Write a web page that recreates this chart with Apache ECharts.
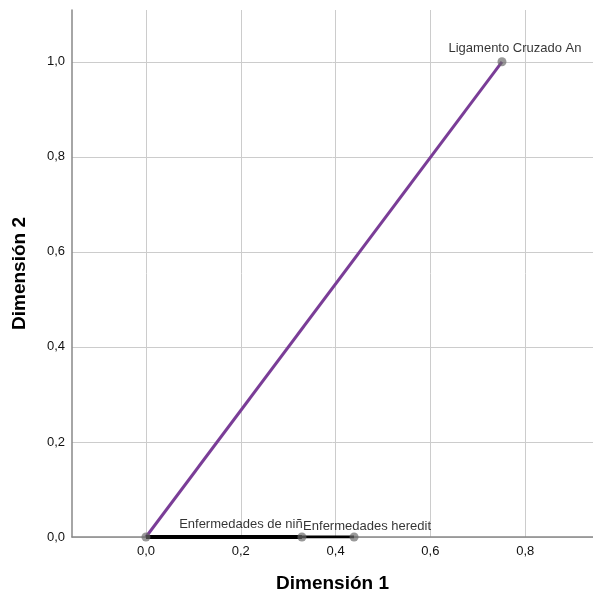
<!DOCTYPE html>
<html><head><meta charset="utf-8">
<script src="https://cdn.jsdelivr.net/npm/echarts@6/dist/echarts.min.js"></script>
<style>html,body{margin:0;padding:0;background:#fff}#c{width:593px;height:598px}</style>
</head><body><div id="c"></div>
<script>
const categories = ["Ligamento Cruzado An", "Enfermedades de niñ", "Enfermedades heredit"];
const dim1 = [0.751, 0.329, 0.439];
const dim2 = [1.0, 0.0, 0.0];
const xTicks = [0, 0.2, 0.4, 0.6, 0.8];
const yTicks = [0, 0.2, 0.4, 0.6, 0.8, 1.0];
const lineColors = ["#7a3d97", "#000000", "#000000"];
const lineWidths = [3, 4, 3];
const labelOffsets = [[13, -13], [-61, -13], [13, -11]];

const fmt = v => v.toFixed(1).replace('.', ',');
const font = "'Liberation Sans', Arial, sans-serif";

const series = [];
categories.forEach((c, i) => {
  series.push({
    type: 'line', data: [[0, 0], [dim1[i], dim2[i]]], symbol: 'none',
    lineStyle: { color: lineColors[i], width: lineWidths[i] }, z: i === 1 ? 4 : 3, silent: true
  });
});
series.push({
  type: 'scatter', symbolSize: 9, z: 5,
  itemStyle: { color: 'rgba(105,105,105,0.85)' },
  data: [{ value: [0, 0], label: { show: false } }].concat(categories.map((c, i) => ({
    value: [dim1[i], dim2[i]], name: c,
    label: { show: true, position: 'inside', offset: labelOffsets[i], formatter: c,
      color: '#000', fontSize: 13, fontFamily: font, textBorderWidth: 0, textBorderColor: 'transparent' }
  })))
});

const chart = echarts.init(document.getElementById('c'));
chart.setOption({
  animation: false,
  grid: { left: 72, right: 0, top: 10, bottom: 60 },
  xAxis: {
    type: 'value', min: -0.156, max: 0.943,
    name: 'Dimensión 1', nameLocation: 'middle', nameGap: 37,
    nameTextStyle: { fontSize: 19, fontWeight: 'bold', color: '#000', fontFamily: font },
    axisLine: { onZero: false, lineStyle: { color: '#888', width: 1.5 } },
    axisTick: { show: false, customValues: xTicks },
    axisLabel: { customValues: xTicks, formatter: fmt, color: '#111', fontSize: 13, fontFamily: font, margin: 8 },
    splitLine: { show: true, lineStyle: { color: '#cccccc', width: 1 } }
  },
  yAxis: {
    type: 'value', min: 0, max: 1.109,
    name: 'Dimensión 2', nameLocation: 'middle', nameGap: 43,
    nameTextStyle: { fontSize: 19, fontWeight: 'bold', color: '#000', fontFamily: font },
    axisLine: { show: true, onZero: false, lineStyle: { color: '#888', width: 1.5 } },
    axisTick: { show: false, customValues: yTicks },
    axisLabel: { customValues: yTicks, formatter: fmt, color: '#111', fontSize: 13, fontFamily: font, margin: 7 },
    splitLine: { show: true, lineStyle: { color: '#cccccc', width: 1 } }
  },
  series: series
});
</script></body></html>
